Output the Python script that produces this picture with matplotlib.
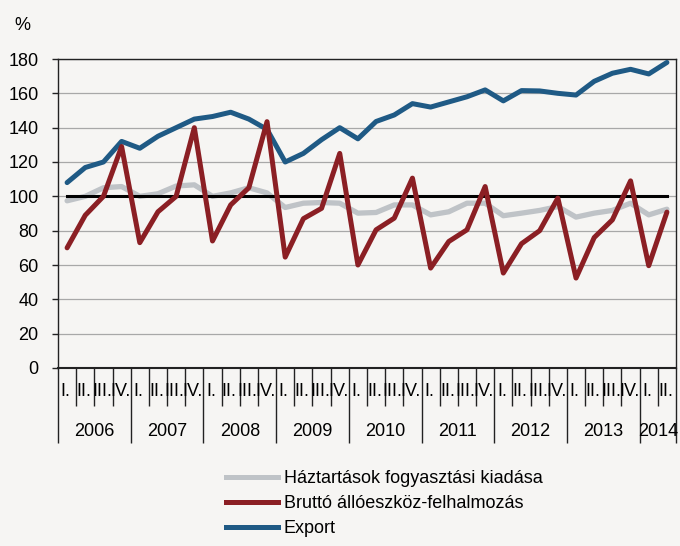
import matplotlib
matplotlib.use('Agg')
import matplotlib.pyplot as plt
import matplotlib.transforms as mtransforms
from matplotlib.lines import Line2D
import numpy as np

plt.rcParams['font.family'] = ['Liberation Sans', 'DejaVu Sans']

# quarterly indices, 2006 Q1 - 2014 Q2
years = ['2006', '2007', '2008', '2009', '2010', '2011', '2012', '2013', '2014']
quarters = ['I.', 'II.', 'III.', 'IV.']

haztartas = [97.4, 100, 105, 105.7, 100, 101.5, 106, 106.7, 100, 102, 105, 102,
             93.5, 96, 96.4, 96, 90.2, 90.6, 95, 95, 89.2, 91, 96, 96,
             88.7, 90.2, 91.8, 94, 87.9, 90.2, 91.8, 96, 89.2, 92.5]
brutto = [70, 89, 100, 129, 73, 91, 100, 140, 74, 95, 105, 143.5,
          64.6, 87, 93, 125, 60, 80.5, 87.3, 110.6, 58.2, 73.7, 80.5, 105.7,
          55.3, 72.4, 80, 99, 52.4, 76, 86.3, 109, 59.6, 90.8]
export = [108, 116.8, 120, 132, 128, 135, 140, 145, 146.5, 149, 145, 139,
          120, 125, 133, 140, 133.5, 143.6, 147.4, 154, 152, 155, 158, 162,
          155.6, 161.6, 161.4, 160, 159, 167, 171.7, 174, 171.3, 178]
base = [100] * len(export)

labels = ['Háztartások fogyasztási kiadása', 'Bruttó állóeszköz-felhalmozás', 'Export']
colors = ['#bfc3c7', '#8b1f24', '#1f5a85']

bg = '#f6f5f3'
fs = 13

fig = plt.figure(figsize=(6.8, 5.46), dpi=100, facecolor=bg)
ax = fig.add_axes([58 / 680, 1 - 368 / 546, 618 / 680, 309 / 546], facecolor=bg)

x = np.arange(len(export))
ax.plot(x, haztartas, color=colors[0], lw=3.8, zorder=3, solid_capstyle='round')
ax.plot(x, base, color='black', lw=2.2, zorder=4)
ax.plot(x, export, color=colors[2], lw=3.6, zorder=5, solid_capstyle='round')
ax.plot(x, brutto, color=colors[1], lw=3.6, zorder=6, solid_capstyle='round')

ax.set_xlim(-0.5, len(export) - 0.5)
ax.set_ylim(0, 180)
ax.set_yticks(range(0, 181, 20))
ax.yaxis.grid(True, color='#a8a8a8', lw=0.9)
ax.set_axisbelow(True)
ax.tick_params(axis='y', length=4.5, width=1, pad=9.5, labelsize=fs, color='#222222')

for s in ax.spines.values():
    s.set_color('#222222')
    s.set_linewidth(1.0)
ax.spines['bottom'].set_linewidth(1.5)

# category axis: quarter separators and year separators
n = len(export)
year_edges = [e - 0.5 for e in range(0, n, 4)] + [n - 0.5]
q_edges = [e - 0.5 for e in range(n + 1)]
ax.set_xticks(year_edges)
ax.set_xticks(q_edges, minor=True)
ax.set_xticklabels([])
ax.tick_params(axis='x', which='major', length=54, width=1, color='#222222')
ax.tick_params(axis='x', which='minor', length=27, width=1, color='#222222')

trans = mtransforms.blended_transform_factory(ax.transData, ax.transAxes)
for i in range(n):
    ax.text(i - 0.08, -24 / 309, quarters[i % 4], transform=trans, ha='center', va='center',
            fontsize=fs, clip_on=False)
for k, yr in enumerate(years):
    first = k * 4
    last = min(first + 3, n - 1)
    ax.text((first + last) / 2, -64 / 309, yr, transform=trans, ha='center', va='center',
            fontsize=fs, clip_on=False)

fig.text(22 / 680, 1 - 25 / 546, '%', ha='center', va='center', fontsize=fs)

handles = [Line2D([], [], color=c, lw=3.6) for c in colors]
fig.legend(handles, labels, loc='upper left', bbox_to_anchor=(226 / 680, 1 - 470 / 546),
           frameon=False, fontsize=fs, handlelength=2.9, handletextpad=0.3,
           labelspacing=0.45, borderpad=0, borderaxespad=0)

fig.savefig('out.png', dpi=100, facecolor=bg)
